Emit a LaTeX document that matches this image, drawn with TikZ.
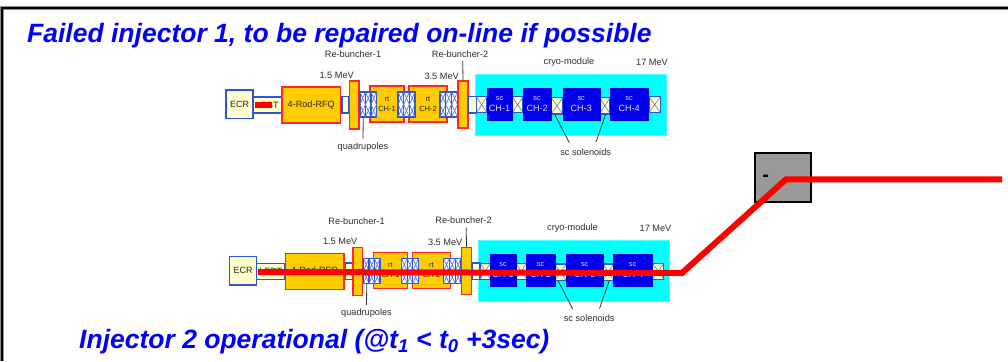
\documentclass[tikz,border=0pt]{standalone}
\usepackage{fontspec}
\setmainfont{Liberation Sans}
\definecolor{beamblue}{RGB}{45,85,215}
\definecolor{cream}{RGB}{255,255,204}
\definecolor{rfqorange}{RGB}{255,204,0}
\definecolor{labelgray}{RGB}{45,45,45}
\definecolor{cryocyan}{RGB}{0,255,255}
\definecolor{scblue}{RGB}{0,0,235}
\definecolor{puretitle}{RGB}{0,0,255}
\definecolor{purered}{RGB}{255,0,0}
\definecolor{maggray}{RGB}{153,153,153}
\tikzset{
  x=1pt,y=-1pt,
  creambox/.style={fill=cream,draw=beamblue,line width=1.3pt},
  warmbox/.style={fill=rfqorange,draw=purered!85!white,line width=1.3pt},
  rtbox/.style={warmbox,font=\fontsize{7.5}{9.2}\selectfont},
  scbox/.style={fill=scblue,draw=scblue,line width=0.4pt},
  lab/.style={font=\fontsize{9.2}{10}\selectfont,text=labelgray,inner sep=0pt},
  tinywhite/.style={text=white!85!blue,inner sep=0pt,align=center},
  tinydark/.style={text=black!85,inner sep=0pt,align=center},
  leader/.style={draw=black!80,line width=0.8pt},
  title/.style={font=\fontsize{26.5}{28}\selectfont\bfseries\itshape,text=puretitle,inner sep=0pt,anchor=base west},
  beam/.style={draw=purered,line width=6pt,line join=miter},
}
% \injbox{name}{x1}{y1}{x2}{y2}{style}{text}
\newcommand{\injbox}[7]{\node[#6,minimum width=#4pt-#2pt,minimum height=#5pt-#3pt,tinydark] (#1) at ({(#2+#4)/2},{(#3+#5)/2}) {#7};}
\newcommand{\solenoid}[5]{\node[creambox,inner sep=0pt,line width=1.1pt,minimum width=#4pt-#2pt,minimum height=#5pt-#3pt] (#1) at ({(#2+#4)/2},{(#3+#5)/2}) {};
  \draw[beamblue!60!gray,line width=0.5pt] (#1.north west) -- (#1.south east) (#1.north east) -- (#1.south west);}
\newcommand{\quadgroup}[4]{\node[fill=white,draw=beamblue,inner sep=0pt,line width=1.3pt,minimum width=#3pt-#2pt,minimum height=25pt] (#1) at ({(#2+#3)/2},#4) {};
  \foreach \k in {0,1,2}{
    \draw[beamblue,line width=1.1pt] ({#2+(#3-#2)*\k/3},{#4-12.5}) rectangle ({#2+(#3-#2)*(\k+1)/3},{#4+12.5});
    \draw[beamblue!80!white,line width=0.7pt] ({#2+(#3-#2)*\k/3},{#4-12.5}) -- ({#2+(#3-#2)*(\k+1)/3},{#4}) -- ({#2+(#3-#2)*\k/3},{#4+12.5})
      ({#2+(#3-#2)*(\k+1)/3},{#4-12.5}) -- ({#2+(#3-#2)*\k/3},{#4}) -- ({#2+(#3-#2)*(\k+1)/3},{#4+12.5});}}
\newcommand{\injector}[2]{%
\begin{scope}[shift={(#2)}]
  \injbox{#1ecr}{226}{90}{253}{118.5}{creambox}{\fontsize{9}{10}\selectfont ECR}
  \injbox{#1lebt}{253}{97}{281.5}{113}{creambox}{\fontsize{9.1}{10}\selectfont LEBT}
  \injbox{#1rfq}{282}{87}{340.5}{123}{warmbox}{\fontsize{9.1}{10}\selectfont 4-Rod-RFQ}
  \injbox{#1drifta}{342}{96.5}{349}{113}{creambox}{}
  \injbox{#1rba}{349.5}{81}{359}{129}{warmbox}{}
  \injbox{#1rta}{370}{86}{404}{122}{rtbox}{rt\\[1pt]CH-1}
  \injbox{#1rtb}{409}{86}{447}{122}{rtbox}{rt\\[1pt]CH-2}
  \quadgroup{#1qa}{360}{376.5}{104.5}
  \quadgroup{#1qb}{398}{415}{104.5}
  \quadgroup{#1qc}{440}{457.5}{104.5}
  \injbox{#1rbb}{458}{81}{468}{128}{warmbox}{}
  \node[fill=cryocyan,draw=cryocyan!70!white,line width=0.5pt,inner sep=0pt,minimum width=191pt,minimum height=61pt] (#1cryo) at (570.5,104.5) {};
  \injbox{#1driftb}{468.5}{96.5}{476.5}{113}{creambox}{}
  \solenoid{#1sa}{476.7}{96.7}{486.7}{112.7}
  \solenoid{#1sb}{512.3}{96.7}{523}{112.7}
  \solenoid{#1sc}{551.3}{97.5}{562.7}{114}
  \solenoid{#1sd}{599.7}{97.5}{610}{114}
  \solenoid{#1se}{649}{96.7}{660.3}{112.7}
  \injbox{#1cha}{486.7}{88}{512.3}{120}{scbox}{}
  \injbox{#1chb}{523}{88}{551.3}{120}{scbox}{}
  \injbox{#1chc}{562.7}{88}{599.7}{120}{scbox}{}
  \injbox{#1chd}{610}{88}{648.3}{120}{scbox}{}
  \foreach \n/\t in {cha/CH-1,chb/CH-2,chc/CH-3,chd/CH-4}{
    \node[tinywhite,font=\fontsize{9.1}{9.5}\selectfont] at (#1\n) {{\fontsize{7.4}{8}\selectfont sc}\\[1.5pt]\t};}
  \node[lab] (#1lrba) at (353,54.5) {Re-buncher-1};
  \node[lab] (#1lrbb) at (460,54) {Re-buncher-2};
  \node[lab] (#1lea) at (336.7,75) {1.5 MeV};
  \node[lab] (#1leb) at (441.7,76) {3.5 MeV};
  \node[lab] (#1lcryo) at (569,61.7) {cryo-module};
  \node[lab] (#1lee) at (652,62) {17 MeV};
  \node[lab] (#1lq) at (363,146.7) {quadrupoles};
  \node[lab] (#1lsc) at (585.7,152) {sc solenoids};
  \coordinate (#1qend) at (363,138.7);
  \coordinate (#1rend) at (462.7,61);
  \coordinate (#1sendl) at (569.3,142.7);
  \coordinate (#1sendr) at (596,142);
  \draw[leader] (#1qa.south) ++(-5,0) -- (#1qend);
  \draw[leader] (#1rbb.north) -- (#1rend);
  \draw[leader] (#1sc.south west) ++(4,0) -- (#1sendl);
  \draw[leader] (#1sd.south east) ++(-5,0) -- (#1sendr);
\end{scope}}
\begin{document}
\begin{tikzpicture}
\useasboundingbox (0,0) rectangle (1008,361);
\fill[white] (0,0) rectangle (1008,361);
\injector{t}{0,0}
\injector{b}{3.5,166.5}
% frame
\draw[black!45,line width=3.6pt] (1.8,361) -- (1.8,8) -- (1008,8);
\draw[black,line width=2pt] (1.8,361) -- (1.8,8) -- (1008,8);
% failed beam stub top
\fill[purered] (255,102) rectangle (272,108);
% switching magnet
\node[fill=maggray,draw=black,line width=1.8pt,inner sep=0pt,minimum width=56pt,minimum height=49pt] (mag) at (783,177.3) {};
\node[inner sep=0pt,font=\bfseries\fontsize{20}{20}\selectfont] (minus) at (765.7,178.5) {-};
% operational beam
\coordinate (bs) at (258,272);
\coordinate (bk) at (682,273);
\coordinate (bc) at (786,179.3);
\coordinate (be) at (1002,179.3);
\draw[beam] (bs) -- (bk) -- (bc) -- (be);
% titles
\node[title] (t1) at (27,43) {Failed injector 1, to be repaired on-line if possible};
\node[title] (t2) at (79,348) {Injector 2 operational (@t\textsubscript{1} < t\textsubscript{0} +3sec)};
\end{tikzpicture}
\end{document}
